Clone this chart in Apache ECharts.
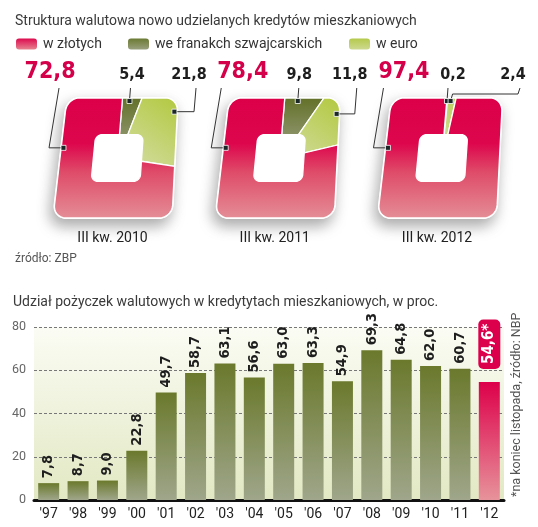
<!DOCTYPE html>
<html>
<head>
<meta charset="utf-8">
<script src="https://cdn.jsdelivr.net/npm/echarts@6/dist/echarts.min.js"></script>
<style>
html,body{margin:0;padding:0;background:#fff;}
#c{width:538px;height:527px;}
</style>
</head>
<body>
<div id="c"></div>
<script>
// ---- data ----
const periods = ['III kw. 2010', 'III kw. 2011', 'III kw. 2012'];
const plnShare = [72.8, 78.4, 97.4];
const chfShare = [5.4, 9.8, 0.2];
const eurShare = [21.8, 11.8, 2.4];
const legendNames = ['w złotych', 'we franakch szwajcarskich', 'w euro'];

const years = ["'97", "'98", "'99", "'00", "'01", "'02", "'03", "'04", "'05", "'06", "'07", "'08", "'09", "'10", "'11", "'12"];
const fxShare = [7.8, 8.7, 9.0, 22.8, 49.7, 58.7, 63.1, 56.6, 63.0, 63.3, 54.9, 69.3, 64.8, 62.0, 60.7, 54.6];
const estimatedIndex = 15;
const yTicks = { min: 0, max: 80, interval: 20 };

// ---- styling / layout ----
const condensed = "'DejaVu Sans Condensed','Liberation Sans Narrow',sans-serif";
const light = "Roboto,'Liberation Sans',sans-serif";
// label offsets (x relative to shape centre) for [pln, chf, eur]
const labelDx = [[-67.5, 14.5, 71.5], [-37, 19.5, 70], [-38, 11, 71]];

const LG = echarts.graphic.LinearGradient;
const fmt = v => v.toFixed(1).replace('.', ',');

function hit(deg, r) {
  const th = deg * Math.PI / 180;
  const dx = Math.sin(th), dy = -Math.cos(th);
  const ax = Math.abs(dx), ay = Math.abs(dy);
  let t = 1 / Math.max(ax, ay);
  const px = t * ax, py = t * ay;
  if (px > 1 - r && py > 1 - r) {
    const c = 1 - r;
    const dc = (ax + ay) * c;
    t = dc + Math.sqrt(Math.max(0, dc * dc - 2 * c * c + r * r));
  }
  return [t * dx, t * dy];
}
function angles(a1, a2) {
  const out = [a1];
  for (let a = Math.ceil(a1 + 0.0001); a < a2; a += 1) out.push(a);
  out.push(a2);
  return out;
}

function renderDonut(params, api) {
  const i = api.value(0);
  const c = api.coord([i, 0.5]);
  const cx = c[0], cy = c[1];
  const hh = api.size([0, 1])[1] / 2;
  const hw = 57.5;
  const tf = (u, v) => [cx + u * (hw + v * 2) - v * 5, cy + v * hh];
  const outer = a => { const p = hit(a, 0.22); return tf(p[0], p[1]); };
  const inner = a => { const p = hit(a, 0.28); return tf(p[0] * 0.42, p[1] * 0.39); };
  const at = (a, k) => { const p = hit(a, 0.22); return tf(p[0] * k, p[1] * k); };

  const vals = [api.value(1), api.value(2), api.value(3)]; // chf, eur, pln
  const tot = vals[0] + vals[1] + vals[2];
  const bounds = [];
  let acc = 0;
  vals.forEach(v => { const a1 = acc / tot * 360; acc += v; bounds.push([a1, acc / tot * 360]); });

  const fills = [
    new LG(0, cy - hh, 0, cy + 5, [{ offset: 0, color: '#637129' }, { offset: 1, color: '#a6a892' }], true),
    new LG(cx + hw, cy - hh, cx, cy + hh * 0.3, [{ offset: 0, color: '#b3c942' }, { offset: 1, color: '#d9e0b2' }], true),
    new LG(0, cy - hh, 0, cy + hh, [{ offset: 0, color: '#dc0049' }, { offset: 0.38, color: '#dd064d' }, { offset: 0.62, color: '#df4c69' }, { offset: 1, color: '#e48d96' }], true)
  ];

  const children = [];
  children.push({
    type: 'polygon',
    shape: { points: angles(0, 360).map(outer) },
    style: { fill: '#fff', stroke: '#fff', lineWidth: 2, shadowBlur: 14, shadowColor: 'rgba(0,0,0,0.32)', shadowOffsetY: 7, shadowOffsetX: -3 }
  });
  bounds.forEach((b, k) => {
    if (b[1] - b[0] <= 0) return;
    const as = angles(b[0], b[1]);
    const pts = as.map(outer).concat(as.slice().reverse().map(inner));
    children.push({ type: 'polygon', shape: { points: pts }, style: { fill: fills[k], stroke: '#fff', lineWidth: 1.3 } });
  });

  const topY = cy - 70;
  const dxs = labelDx[i];
  const mR = at(280, 0.96);
  children.push({ type: 'polyline', shape: { points: [[cx - 58.5, topY], [cx - 68.5, mR[1]], mR] }, style: { stroke: '#333', lineWidth: 1, fill: null } });
  const aC = bounds[0][0] + 0.4 * (bounds[0][1] - bounds[0][0]);
  const mC = at(aC, 0.95);
  children.push({ type: 'polyline', shape: { points: [mC, [mC[0] + 1, topY]] }, style: { stroke: '#333', lineWidth: 1, fill: null } });
  const aE = bounds[1][0] + 0.4 * (bounds[1][1] - bounds[1][0]);
  const mE = at(aE, 0.95);
  const ey = mE[1] > cy - 54 ? mE[1] : cy - 64;
  const lxE = cx + dxs[2] + 5;
  children.push({ type: 'polyline', shape: { points: [mE, [mE[0] + 2, ey], [lxE, ey], [lxE + 2, topY]] }, style: { stroke: '#333', lineWidth: 1, fill: null } });

  [mR, mC, mE].forEach(m => children.push({
    type: 'rect', shape: { x: m[0] - 2.5, y: m[1] - 2.5, width: 5, height: 5 },
    style: { fill: '#1b2727', stroke: '#fff', lineWidth: 0.8 }
  }));

  children.push({ type: 'text', style: { text: fmt(vals[2]), x: cx + dxs[0], y: cy - 86, textAlign: 'center', textVerticalAlign: 'middle', fill: '#d4004a', font: 'bold 23px ' + condensed } });
  children.push({ type: 'text', style: { text: fmt(vals[0]), x: cx + dxs[1], y: cy - 83, textAlign: 'center', textVerticalAlign: 'middle', fill: '#1e1e1e', font: 'bold 16px ' + condensed } });
  children.push({ type: 'text', style: { text: fmt(vals[1]), x: cx + dxs[2], y: cy - 83, textAlign: 'center', textVerticalAlign: 'middle', fill: '#1e1e1e', font: 'bold 16px ' + condensed } });

  return { type: 'group', children: children };
}

const oliveGrad = new LG(0, 0, 0, 1, [{ offset: 0, color: '#6a792c' }, { offset: 1, color: '#9fa68b' }]);
const redGrad = new LG(0, 0, 0, 1, [{ offset: 0, color: '#dd004a' }, { offset: 1, color: '#e7939b' }]);

const barData = fxShare.map((v, i) => {
  if (i !== estimatedIndex) return { value: v };
  return {
    value: v,
    itemStyle: { color: redGrad },
    label: { formatter: fmt(v) + '*', color: '#fff', backgroundColor: '#dc004c', borderRadius: 5, padding: [4, 4, 3, 5], distance: 13, fontSize: 15 }
  };
});

const legendColors = [
  new LG(0, 0, 0, 1, [{ offset: 0, color: '#dd0a4f' }, { offset: 1, color: '#e6828f' }]),
  new LG(0, 0, 0, 1, [{ offset: 0, color: '#6b7a33' }, { offset: 1, color: '#98a07c' }]),
  new LG(0, 0, 0, 1, [{ offset: 0, color: '#b5ca4c' }, { offset: 1, color: '#cdd990' }])
];
const legendX = [16, 128, 349];

const graphics = [
  { type: 'text', left: 15, top: 14, style: { text: 'Struktura walutowa nowo udzielanych kredytów mieszkaniowych', fill: '#3a3a3a', font: '14px ' + light } },
  { type: 'text', left: 15, top: 253, style: { text: 'źródło: ZBP', fill: '#555', font: '12px ' + light } },
  { type: 'text', left: 13, top: 295, style: { text: 'Udział pożyczek walutowych w kredytytach mieszkaniowych, w proc.', fill: '#3a3a3a', font: '14px ' + light } },
  { type: 'text', x: 517, y: 497, rotation: Math.PI / 2, style: { text: '*na koniec listopada, źródło: NBP', fill: '#555', font: '12.5px ' + light, textAlign: 'left', textVerticalAlign: 'middle' } }
];
legendNames.forEach((n, k) => {
  graphics.push({ type: 'rect', shape: { x: legendX[k], y: 38.5, width: 21, height: 11, r: 3 }, style: { fill: legendColors[k] } });
  graphics.push({ type: 'text', x: legendX[k] + 27, y: 44, style: { text: n, fill: '#333', font: '14px ' + light, textAlign: 'left', textVerticalAlign: 'middle' } });
});

const option = {
  animation: false,
  backgroundColor: '#fff',
  grid: [
    { left: 34, right: 34, top: 327, bottom: 27, show: true, borderWidth: 0,
      backgroundColor: new LG(0, 0, 0, 1, [{ offset: 0, color: '#fbfcf4' }, { offset: 1, color: '#e2e8c3' }]) },
    { left: 36.4, right: 14.9, top: 98, bottom: 309 }
  ],
  xAxis: [
    { gridIndex: 0, type: 'category', data: years,
      axisLine: { lineStyle: { color: '#111', width: 3 } }, axisTick: { show: false },
      axisLabel: { color: '#222', fontSize: 14, margin: 7, fontFamily: light } },
    { gridIndex: 1, type: 'category', data: periods,
      axisLine: { show: false }, axisTick: { show: false },
      axisLabel: { color: '#222', fontSize: 14, margin: 13, padding: [0, 10, 0, 0], fontFamily: light } }
  ],
  yAxis: [
    { gridIndex: 0, type: 'value', min: yTicks.min, max: yTicks.max, interval: yTicks.interval,
      axisLine: { show: false }, axisTick: { show: false },
      axisLabel: { color: '#666', fontSize: 12.5, margin: 8, fontFamily: light },
      splitLine: { lineStyle: { color: '#777', width: 1, type: [3, 2] } } },
    { gridIndex: 1, type: 'value', min: 0, max: 1, show: false }
  ],
  series: [
    { type: 'bar', xAxisIndex: 0, yAxisIndex: 0, data: barData, barWidth: 21,
      itemStyle: { color: oliveGrad },
      label: { show: true, position: 'top', rotate: 90, align: 'left', verticalAlign: 'middle', distance: 5,
        color: '#1e1e1e', fontSize: 14.5, fontWeight: 'bold', fontFamily: condensed,
        formatter: p => fmt(p.value) } },
    { type: 'custom', xAxisIndex: 1, yAxisIndex: 1, renderItem: renderDonut,
      encode: { x: 0 },
      data: periods.map((p, i) => [i, chfShare[i], eurShare[i], plnShare[i]]) }
  ],
  graphic: graphics
};

const chart = echarts.init(document.getElementById('c'), null, { renderer: 'canvas' });
chart.setOption(option);
</script>
</body>
</html>
